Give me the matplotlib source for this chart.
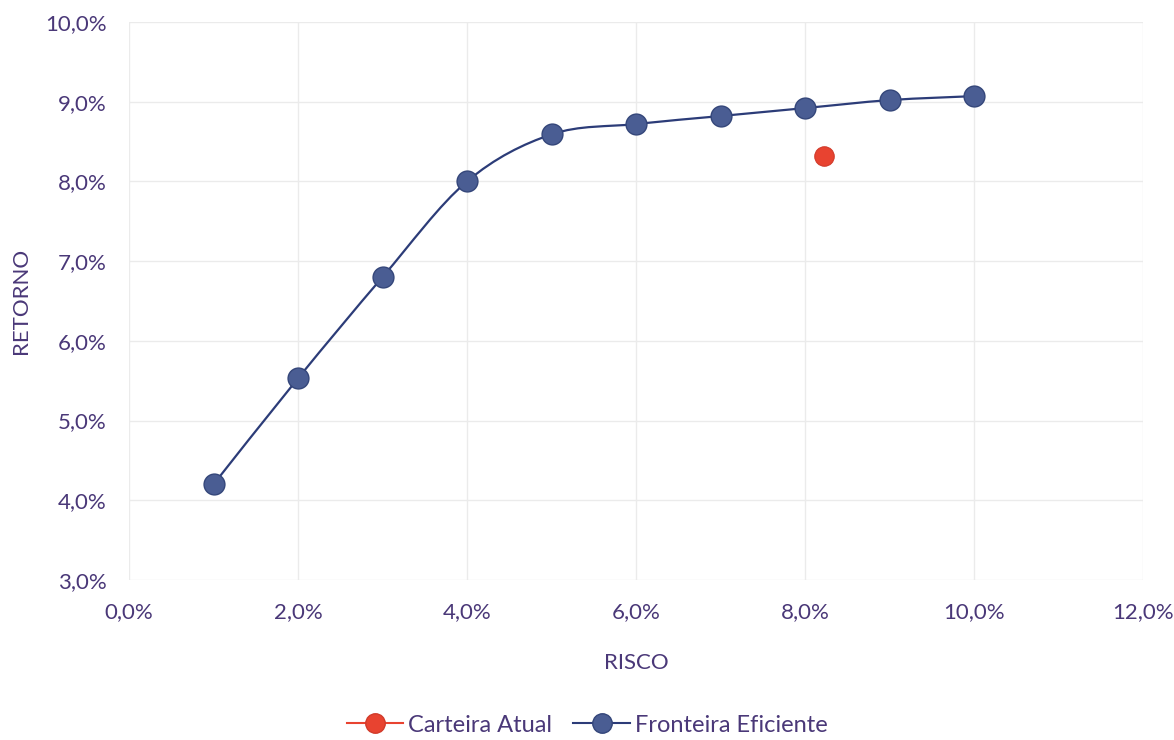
import numpy as np
import matplotlib.pyplot as plt
from matplotlib.path import Path
from matplotlib.patches import PathPatch
from matplotlib.lines import Line2D
from matplotlib.ticker import FuncFormatter

# risco / retorno da fronteira eficiente (em %)
risco = [1, 2, 3, 4, 5, 6, 7, 8, 9, 10]
retorno = [4.20, 5.53, 6.80, 8.00, 8.59, 8.72, 8.82, 8.92, 9.02, 9.07]

# carteira atual
risco_atual = [8.22]
retorno_atual = [8.32]

txt = '#4a3878'
grid = '#ebebeb'
azul = '#4a5d93'
azul_linha = '#2c3c78'
vermelho = '#e84330'

plt.rcParams['font.family'] = ['Lato', 'DejaVu Sans']
plt.rcParams['font.size'] = 16

fig = plt.figure(figsize=(11.74, 7.4), dpi=100)
ax = fig.add_axes([0.1099, 0.2162, 0.8637, 0.7541])


def suaviza(x, y, t=0.5):
    # curva suavizada: Catmull-Rom convertida em Bezier cubicas
    x = np.asarray(x, float)
    y = np.asarray(y, float)
    pts = np.column_stack([x, y])
    verts = [pts[0]]
    codes = [Path.MOVETO]
    n = len(pts)
    for i in range(n - 1):
        p0 = pts[i - 1] if i > 0 else pts[i]
        p1 = pts[i]
        p2 = pts[i + 1]
        p3 = pts[i + 2] if i + 2 < n else pts[i + 1]
        c1 = p1 + (p2 - p0) * t / 3
        c2 = p2 - (p3 - p1) * t / 3
        verts += [c1, c2, p2]
        codes += [Path.CURVE4] * 3
    return Path(verts, codes)


ax.add_patch(PathPatch(suaviza(risco, retorno), fill=False,
                       edgecolor=azul_linha, lw=1.6, zorder=2))
ax.plot(risco, retorno, ls='none', marker='o', ms=15, mfc=azul,
        mec='#34467a', mew=1.0, zorder=3)
ax.plot(risco_atual, retorno_atual, ls='none', marker='o', ms=14,
        mfc=vermelho, mec='#d13a2a', mew=0.8, zorder=3)

ax.set_xlim(0, 12)
ax.set_ylim(3, 10)
ax.set_xticks(np.arange(0, 13, 2))
ax.set_yticks(np.arange(3, 11, 1))
fmt = FuncFormatter(lambda v, p: f'{v:.1f}%'.replace('.', ','))
ax.xaxis.set_major_formatter(fmt)
ax.yaxis.set_major_formatter(fmt)
ax.tick_params(length=0, colors=txt, labelsize=16)
ax.tick_params(axis='x', pad=16)
ax.tick_params(axis='y', pad=16)
ax.grid(True, color=grid, lw=1)
ax.set_axisbelow(True)
for s in ax.spines.values():
    s.set_visible(False)

ax.set_xlabel('RISCO', color=txt, fontsize=16, labelpad=22)
ax.set_ylabel('RETORNO', color=txt, fontsize=16, labelpad=10)

handles = [
    Line2D([0], [0], color=vermelho, lw=1.5, marker='o', ms=14,
           mfc=vermelho, mec='#d13a2a'),
    Line2D([0], [0], color=azul_linha, lw=1.5, marker='o', ms=14,
           mfc=azul, mec='#34467a'),
]
fig.legend(handles, ['Carteira Atual', 'Fronteira Eficiente'],
           loc='center', bbox_to_anchor=(0.5, 0.02), ncol=2, frameon=False,
           fontsize=17, labelcolor=txt, handlelength=2.4, handletextpad=0.2,
           columnspacing=0.9)

fig.savefig('out.png', dpi=100)
